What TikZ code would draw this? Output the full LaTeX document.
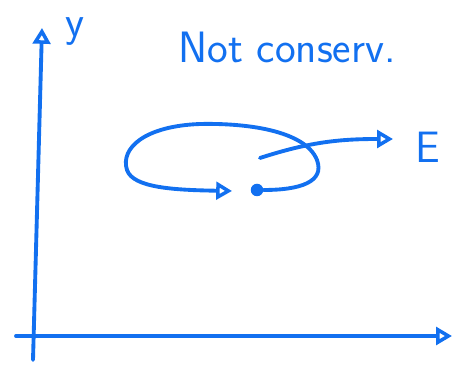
\documentclass[tikz,border=0pt]{standalone}
\usetikzlibrary{arrows.meta}
\definecolor{penblue}{RGB}{18,112,240}
\tikzset{
    pen/.style={draw=penblue, line width=2.2pt, line cap=round, line join=round},
    open tip/.style={-{Triangle[open, length=9pt, width=10pt, line width=2pt]}},
    hand text/.style={text=penblue, font=\sffamily\fontsize{25}{30}\selectfont, inner sep=1pt},
    dot/.style={circle, fill=penblue, inner sep=0pt, minimum size=0.25cm},
}

\begin{document}
\begin{tikzpicture}[x=0.02cm, y=-0.02cm]
    \useasboundingbox (0,0) rectangle (454,367);
    % axes
    \coordinate (ybot) at (33,360);
    \coordinate (ytop) at (42,28);
    \coordinate (eleft) at (16,336);
    \coordinate (eright) at (452,336);
    \draw[pen, open tip] (ybot) -- (ytop);
    \draw[pen, open tip] (eleft) -- (eright);
    \node[hand text] (ylabel) at (75,32) {y};
    \node[hand text] (elabel) at (428,147) {E};
    \node[hand text] (title) at (287,47) {Not conserv.};
    % loop and way out
    \node[dot] (start) at (257,190) {};
    \coordinate (loopend) at (232,191);
    \coordinate (outstart) at (260,158);
    \coordinate (outend) at (393,139);
    \draw[pen, open tip] (start) .. controls (300,190) and (325,182) .. (317,160)
        .. controls (305,130) and (245,123) .. (200,124)
        .. controls (145,126) and (120,148) .. (127,170)
        .. controls (133,188) and (175,190) .. (loopend);
    \draw[pen, open tip] (outstart) to[out=18, in=180] (outend);
\end{tikzpicture}
\end{document}
